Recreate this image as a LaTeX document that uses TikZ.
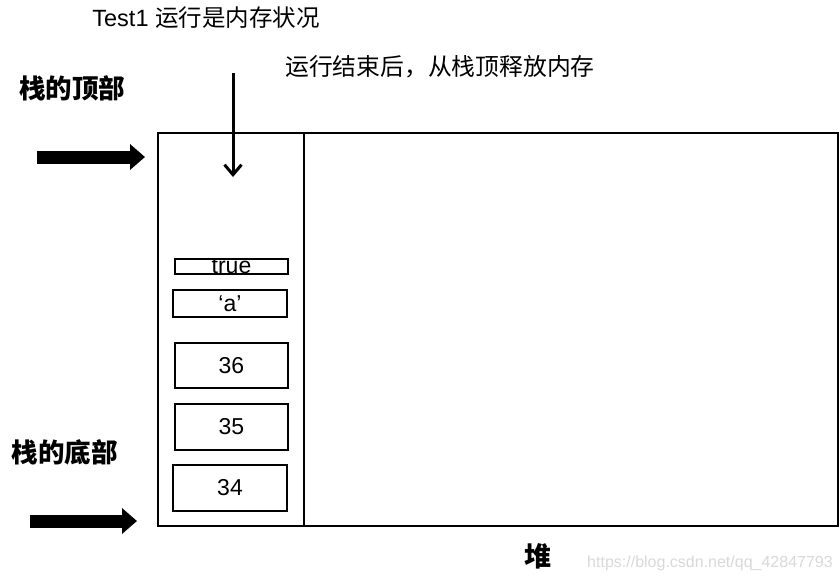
\documentclass[tikz,border=0pt]{standalone}
\usepackage{fontspec}
\setmainfont{Liberation Sans}
\newfontfamily\cjk{Noto Sans CJK SC}
\usetikzlibrary{arrows.meta}
\begin{document}
\begin{tikzpicture}[x=1pt,y=-1pt,
  cell/.style={draw,line width=2pt,inner sep=0pt},
  celltext/.style={font=\fontsize{23}{23}\selectfont,inner sep=0pt},
  bigarrow/.style={line width=13pt,-{Triangle[length=15pt,width=25pt]}},
  lbl/.style={inner sep=0pt,anchor=center}]
\useasboundingbox (0,0) rectangle (840,582);
\fill[white] (0,0) rectangle (840,582);
% titles
\node[lbl] (title) at (206,18) {\fontsize{23.5}{24}\selectfont Test1 {\cjk 运行是内存状况}};
\node[lbl] (sub) at (440,67) {\cjk\fontsize{23.8}{24}\selectfont 运行结束后，从栈顶释放内存};
\node[lbl] (top) at (72,88) {\cjk\bfseries\fontsize{26.5}{27}\selectfont 栈的顶部};
\node[lbl] (bot) at (64.5,452) {\cjk\bfseries\fontsize{26.5}{27}\selectfont 栈的底部};
\node[lbl] (heap) at (538,556) {\cjk\bfseries\fontsize{27}{27}\selectfont 堆};
\node[lbl,text=black!15] (wm) at (710,563) {\fontsize{16}{16}\selectfont https://blog.csdn.net/qq\_42847793};
% memory frame
\node[draw,line width=2.2pt,minimum width=146pt,minimum height=393pt,inner sep=0pt] (stack) at (231,329.5) {};
\node[draw,line width=2.2pt,minimum width=534pt,minimum height=393pt,inner sep=0pt] (heapbox) at (571,329.5) {};
% cells
\node[cell,minimum width=113pt,minimum height=15pt] (ctrue) at (231.5,266.5) {};
\node[celltext] at (ctrue.center) {true};
\node[cell,celltext,minimum width=114pt,minimum height=27pt] (ca) at (230,303.5) {‘a’};
\node[cell,celltext,minimum width=113pt,minimum height=45pt] (c36) at (231.5,365.5) {36};
\node[cell,celltext,minimum width=113pt,minimum height=46pt] (c35) at (231.5,427) {35};
\node[cell,celltext,minimum width=114pt,minimum height=46pt] (c34) at (230,488) {34};
% arrows
\coordinate (ta1) at (37,157);
\coordinate (ta2) at (145,157);
\coordinate (ba1) at (30,521);
\coordinate (ba2) at (137,521);
\coordinate (va1) at (233,73);
\coordinate (va2) at (233,177);
\draw[bigarrow] (ta1) -- (ta2);
\draw[bigarrow] (ba1) -- (ba2);
\draw[line width=3pt,-{Straight Barb[length=10pt,width=17pt]}] (va1) -- (va2);
\end{tikzpicture}
\end{document}
